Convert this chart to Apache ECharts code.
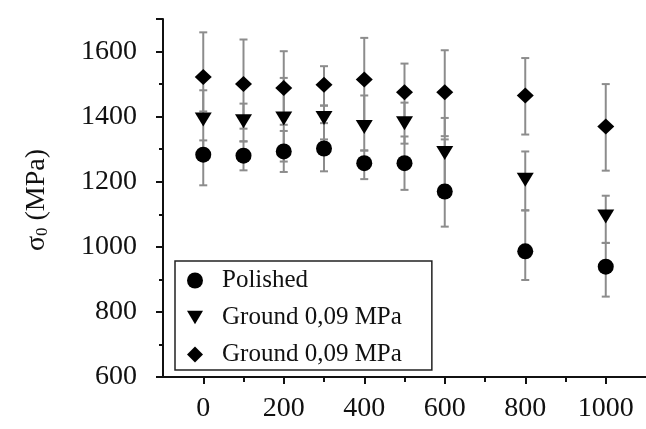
<!DOCTYPE html>
<html>
<head>
<meta charset="utf-8">
<script src="https://cdn.jsdelivr.net/npm/echarts@6/dist/echarts.min.js"></script>
<style>
  html, body { margin: 0; padding: 0; background: #fff; }
  #chart { width: 646px; height: 429px; }
</style>
</head>
<body>
<div id="chart"></div>
<script>
// x positions
const xs = [0, 100, 200, 300, 400, 500, 600, 800, 1000]
const xMajorTicks = [0, 200, 400, 600, 800, 1000]
const xMinorTicks = [100, 300, 500, 700, 900]

// Polished
const polished = [1283, 1280, 1293, 1302, 1257, 1257, 1170, 986, 939]
const polishedLow = [1189, 1235, 1230, 1232, 1208, 1175, 1062, 898, 847]
const polishedHigh = [1327, 1324, 1356, 1380, 1296, 1339, 1330, 1112, 1012]

// Ground 0,09 MPa (triangle)
const groundA = [1391, 1386, 1394, 1396, 1368, 1380, 1288, 1206, 1093]
const groundALow = [1300, 1324, 1262, 1330, 1296, 1317, 1190, 1112, 1012]
const groundAHigh = [1481, 1440, 1519, 1434, 1465, 1443, 1396, 1293, 1157]

// Ground 0,09 MPa (diamond)
const groundB = [1522, 1500, 1488, 1498, 1514, 1475, 1475, 1465, 1370]
const groundBLow = [1416, 1363, 1375, 1434, 1386, 1387, 1340, 1345, 1234]
const groundBHigh = [1659, 1637, 1601, 1555, 1642, 1563, 1604, 1580, 1500]

const names = ['Polished', 'Ground 0,09 MPa', 'Ground 0,09 MPa ']

const serif = 'Liberation Serif, Times New Roman, serif'
const ink = '#111'

const pts = (vals) => xs.map((x, i) => [x, vals[i]])
const bars = (lo, hi) => xs.map((x, i) => [x, lo[i], hi[i]])

const renderErr = (params, api) => {
  const x = api.value(0)
  const lo = api.coord([x, api.value(1)])
  const hi = api.coord([x, api.value(2)])
  const w = 4
  const style = { stroke: '#8c8c8c', lineWidth: 2 }
  return {
    type: 'group',
    children: [
      { type: 'line', shape: { x1: lo[0], y1: lo[1], x2: hi[0], y2: hi[1] }, style },
      { type: 'line', shape: { x1: hi[0] - w, y1: hi[1], x2: hi[0] + w, y2: hi[1] }, style },
      { type: 'line', shape: { x1: lo[0] - w, y1: lo[1], x2: lo[0] + w, y2: lo[1] }, style },
    ],
  }
}

const errSeries = (lo, hi) => ({
  type: 'custom',
  renderItem: renderErr,
  data: bars(lo, hi),
  z: 1,
  silent: true,
})

const chart = echarts.init(document.getElementById('chart'))
chart.setOption({
  animation: false,
  backgroundColor: '#fff',
  grid: { left: 163, right: 0, top: 19, bottom: 52 },
  graphic: [{
    type: 'text',
    x: 37,
    y: 200,
    rotation: Math.PI / 2,
    style: {
      text: '{a|σ}{b|0}{a| (MPa)}',
      align: 'center',
      verticalAlign: 'middle',
      rich: {
        a: { fontFamily: serif, fontSize: 28, lineHeight: 28, fill: ink },
        b: { fontFamily: serif, fontSize: 17, lineHeight: 17, verticalAlign: 'bottom', fill: ink },
      },
    },
  }],
  legend: {
    orient: 'vertical',
    left: 175,
    top: 261,
    padding: [7, 30, 3, 12],
    itemGap: 12,
    itemWidth: 16,
    itemHeight: 16,
    borderColor: '#222',
    borderWidth: 1.5,
    backgroundColor: '#fff',
    formatter: (n) => n.trim(),
    textStyle: { fontFamily: serif, fontSize: 25, lineHeight: 24, color: ink, padding: [0, 0, 0, 14] },
    data: [
      { name: names[0], icon: 'circle' },
      { name: names[1], icon: 'path://M0,0L20,0L10,17Z' },
      { name: names[2], icon: 'diamond' },
    ],
  },
  xAxis: [
    {
      type: 'value',
      min: -100,
      max: 1100,
      splitLine: { show: false },
      axisLine: { onZero: false, lineStyle: { color: ink, width: 2 } },
      axisTick: { customValues: xMajorTicks, length: 7, lineStyle: { color: ink, width: 2 } },
      axisLabel: { customValues: xMajorTicks, formatter: (v) => String(v), fontFamily: serif, fontSize: 28, color: ink, margin: 18 },
    },
    {
      type: 'value',
      min: -100,
      max: 1100,
      position: 'bottom',
      offset: 0,
      splitLine: { show: false },
      axisLine: { show: false, onZero: false },
      axisTick: { customValues: xMinorTicks, length: 5, lineStyle: { color: ink, width: 2 } },
      axisLabel: { show: false },
    },
  ],
  yAxis: {
    type: 'value',
    min: 600,
    max: 1700,
    interval: 200,
    splitLine: { show: false },
    axisLine: { onZero: false, lineStyle: { color: ink, width: 2 } },
    axisTick: { length: 7, lineStyle: { color: ink, width: 2 } },
    minorTick: { show: true, splitNumber: 2, length: 4, lineStyle: { color: ink, width: 2 } },
    axisLabel: { showMaxLabel: false, formatter: (v) => String(v), fontFamily: serif, fontSize: 28, color: ink, margin: 26 },
  },
  series: [
    errSeries(polishedLow, polishedHigh),
    errSeries(groundALow, groundAHigh),
    errSeries(groundBLow, groundBHigh),
    {
      name: names[0], type: 'scatter', z: 3,
      symbol: 'circle', symbolSize: 16,
      itemStyle: { color: '#000', opacity: 1 },
      data: pts(polished),
    },
    {
      name: names[1], type: 'scatter', z: 3,
      symbol: 'triangle', symbolRotate: 180, symbolSize: [17, 14],
      itemStyle: { color: '#000', opacity: 1 },
      data: pts(groundA),
    },
    {
      name: names[2], type: 'scatter', z: 3,
      symbol: 'diamond', symbolSize: [17, 16],
      itemStyle: { color: '#000', opacity: 1 },
      data: pts(groundB),
    },
  ],
})
</script>
</body>
</html>
